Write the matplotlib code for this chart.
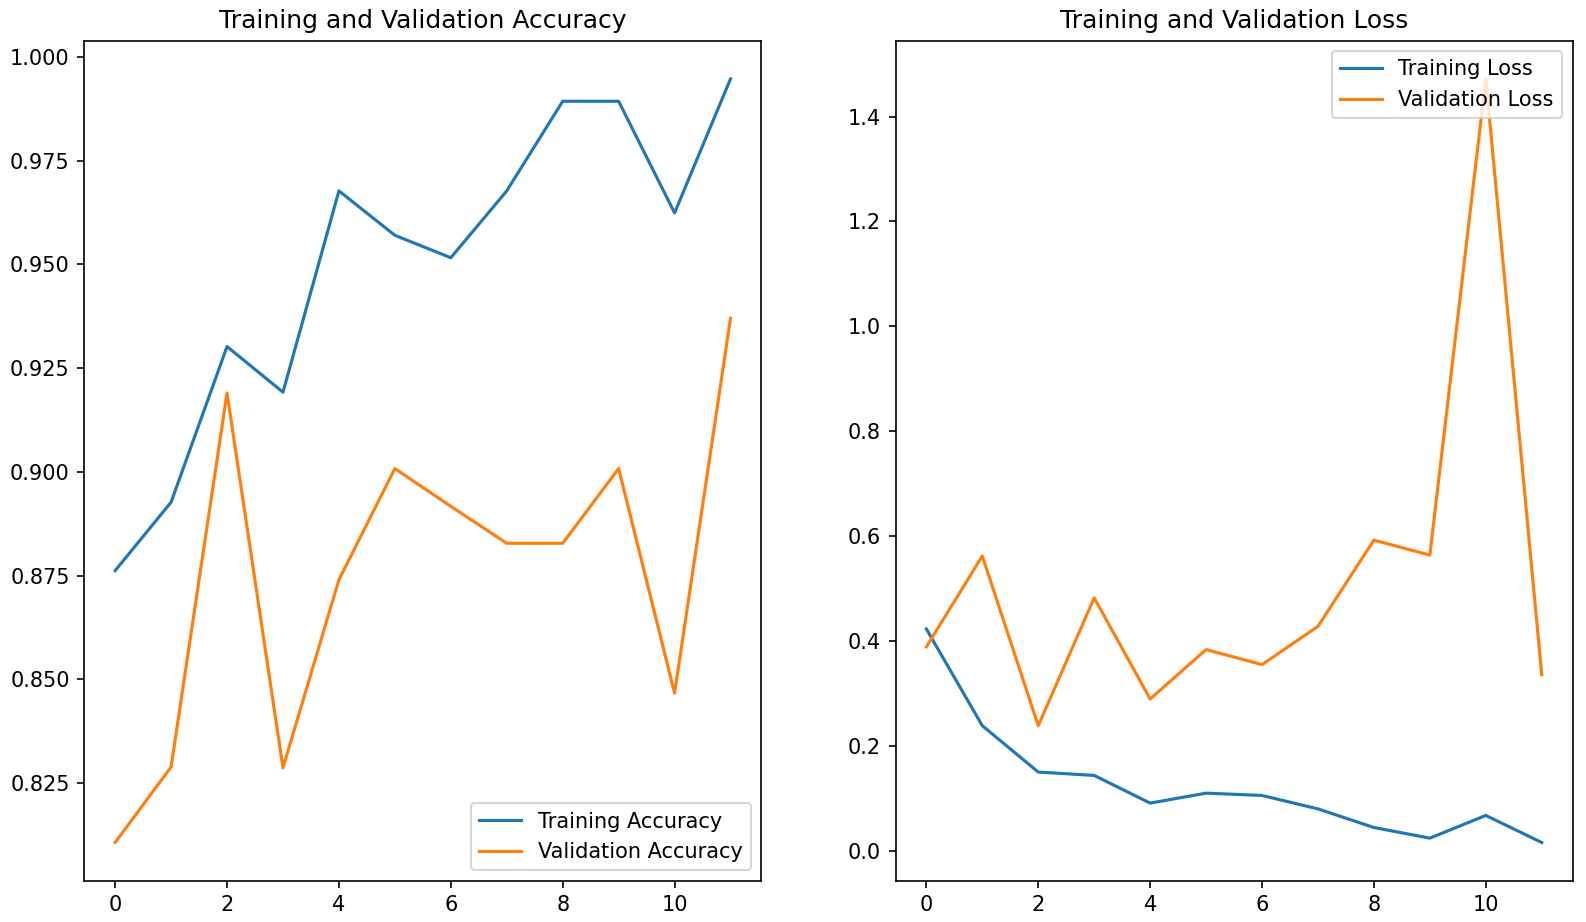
import matplotlib
matplotlib.use("Agg")
import matplotlib.pyplot as plt

epochs = list(range(12))
train_acc = [0.8762, 0.8927, 0.9302, 0.9192, 0.9677, 0.9570, 0.9516, 0.9677, 0.9893, 0.9893, 0.9624, 0.9947]
val_acc = [0.8107, 0.8289, 0.9190, 0.8287, 0.8740, 0.9008, 0.8917, 0.8828, 0.8828, 0.9008, 0.8467, 0.9370]
train_loss = [0.4230, 0.2386, 0.1502, 0.1438, 0.0910, 0.1100, 0.1056, 0.0800, 0.0445, 0.0242, 0.0675, 0.0159]
val_loss = [0.3890, 0.5620, 0.2386, 0.4823, 0.2895, 0.3837, 0.3550, 0.4280, 0.5924, 0.5638, 1.4718, 0.3360]

DPI = 150
fig = plt.figure(figsize=(1586 / DPI, 922 / DPI), dpi=DPI)
plt.subplots_adjust(left=0.0532, right=0.9915, bottom=0.0448, top=0.9559, wspace=0.1984)

ax1 = plt.subplot(1, 2, 1)
ax1.plot(epochs, train_acc, label='Training Accuracy')
ax1.plot(epochs, val_acc, label='Validation Accuracy')
ax1.legend(loc='lower right')
ax1.set_title('Training and Validation Accuracy')

ax2 = plt.subplot(1, 2, 2)
ax2.plot(epochs, train_loss, label='Training Loss')
ax2.plot(epochs, val_loss, label='Validation Loss')
ax2.legend(loc='upper right')
ax2.set_title('Training and Validation Loss')

fig.savefig('out.png', dpi=DPI)
